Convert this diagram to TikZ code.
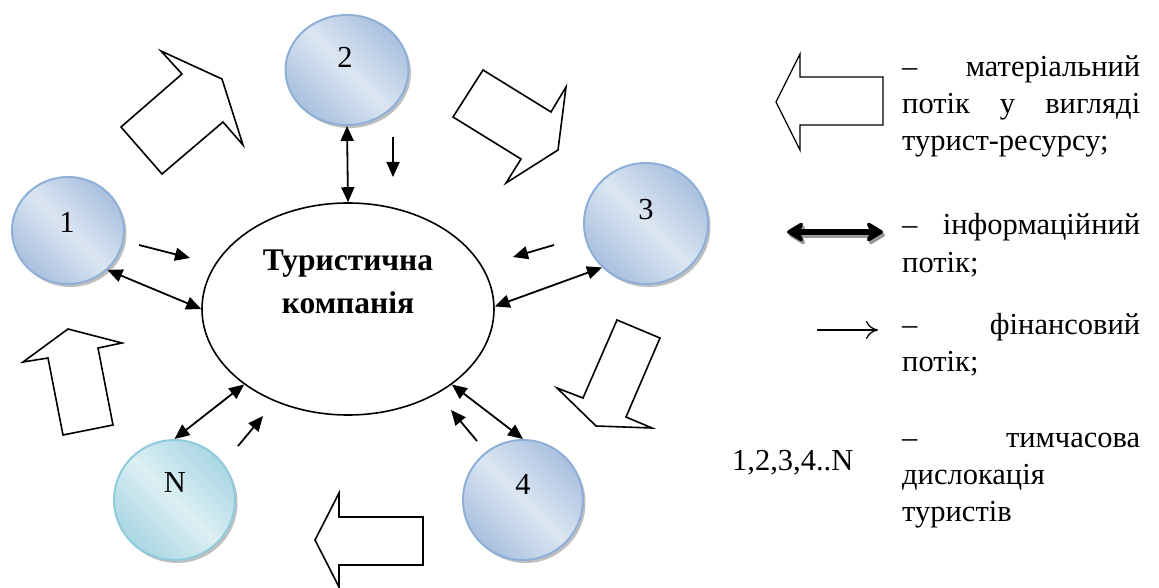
\documentclass[tikz,border=0pt]{standalone}
\usepackage{fontspec}
\setmainfont{Liberation Serif}
\usetikzlibrary{shapes.geometric,arrows.meta,shadows}
\definecolor{bL}{HTML}{DCE6F2}
\definecolor{bD}{HTML}{A9C0DF}
\definecolor{bB}{HTML}{8EAFD8}
\definecolor{cL}{HTML}{DCEFF4}
\definecolor{cD}{HTML}{A9D6E3}
\definecolor{cB}{HTML}{8FCBDC}
\begin{document}
\begin{tikzpicture}[x=1pt,y=-1pt,
  font=\fontsize{30.5}{37}\selectfont,
  place/.style={ellipse, inner sep=0pt, line width=2pt,
    drop shadow={shadow xshift=2.5pt, shadow yshift=-3pt, fill=black!50}},
  blueplace/.style={place, draw=bB, top color=bD, bottom color=bD, middle color=bL, shading angle=-45},
  cyanplace/.style={place, draw=cB, top color=cD, bottom color=cD, middle color=cL, shading angle=-45},
  info/.style={line width=1.8pt, {Triangle[length=15pt,width=13pt]}-{Triangle[length=15pt,width=13pt]}},
  fin/.style={line width=1.8pt, -{Triangle[length=15pt,width=13pt]}},
  blockarrow/.style={draw, line width=1.6pt, fill=white, line join=miter},
  legtext/.style={anchor=base west, text width=238pt, inner sep=0pt, align=left},
]
\useasboundingbox (0,0) rectangle (1159,588);

% block arrows (material flow)
\draw[blockarrow] (121,127) -- (162,174) -- (223,122) -- (243,145) -- (222,79) -- (161,51) -- (182,74) -- cycle;
\draw[blockarrow] (453,117) -- (483,70) -- (551,112) -- (566,87) -- (558,150) -- (506,183) -- (521,159) -- cycle;
\draw[blockarrow] (617,320) -- (660,338) -- (626,417) -- (652,428) -- (596,426) -- (557,388) -- (583,398) -- cycle;
\draw[blockarrow] (423,517) -- (339,517) -- (339,493) -- (315,540) -- (339,587) -- (339,565) -- (423,565) -- cycle;
\draw[blockarrow] (23,362) -- (68,329) -- (122,343) -- (98,348) -- (113,425) -- (63,435) -- (48,358) -- cycle;

% places
\node[blueplace, minimum width=123pt, minimum height=110pt] (c2) at (347,70) {};
\node[blueplace, minimum width=112pt, minimum height=107pt] (c1) at (68,230.5) {};
\node[blueplace, minimum width=124pt, minimum height=121pt] (c3) at (646,223.5) {};
\node[cyanplace, minimum width=121pt, minimum height=120pt] (cN) at (174.5,500) {};
\node[blueplace, minimum width=120pt, minimum height=120pt] (c4) at (523,500) {};
\node (t2) at (345,57) {2};
\node (t1) at (67,222) {1};
\node (t3) at (646,210) {3};
\node (tN) at (175,483) {N};
\node (t4) at (523,484) {4};

% company
\node[ellipse, draw, line width=1.6pt, fill=white, minimum width=292pt, minimum height=212pt, inner sep=0pt] (co) at (348,309) {};
\node[font=\fontsize{31.5}{43}\selectfont\bfseries, text width=260pt, align=center, anchor=base, inner sep=0pt] (ct) at (348,270) {Туристична\\компанія};

% information flows
\draw[info] (c1.-45) -- (co.180);
\draw[info] (c2.south) -- (co.north);
\draw[info] (co.1) -- (c3.225);
\draw[info] (co.-36) -- (c4.north);
\draw[info] (co.-144) -- (cN.north);

% financial flows
\coordinate (fa1) at (139,245); \coordinate (fa2) at (190,258);
\coordinate (fb1) at (393,137); \coordinate (fb2) at (393,177);
\coordinate (fc1) at (554,245); \coordinate (fc2) at (513,257);
\coordinate (fd1) at (477,441); \coordinate (fd2) at (451,410);
\coordinate (fe1) at (238,446); \coordinate (fe2) at (263,416);
\draw[fin] (fa1) -- (fa2);
\draw[fin] (fb1) -- (fb2);
\draw[fin] (fc1) -- (fc2);
\draw[fin] (fd1) -- (fd2);
\draw[fin] (fe1) -- (fe2);

% legend
\draw[blockarrow, line width=1.3pt] (883,77) -- (800,77) -- (800,54) -- (776,102) -- (800,150) -- (800,125) -- (883,125) -- cycle;
\coordinate (li1) at (787,232); \coordinate (li2) at (883,232);
\draw[line width=5pt, black!40, {Stealth[length=20pt,width=24pt,inset=6pt,round]}-{Stealth[length=20pt,width=24pt,inset=6pt,round]}] ([shift={(2,3)}]li1) -- ([shift={(2,3)}]li2);
\draw[line width=5pt, {Stealth[length=20pt,width=24pt,inset=6pt,round]}-{Stealth[length=20pt,width=24pt,inset=6pt,round]}] (li1) -- (li2);
\coordinate (lf1) at (817,330); \coordinate (lf2) at (878,330);
\draw[line width=1.3pt, -{Computer Modern Rightarrow[length=12pt,width=18pt]}] (lf1) -- (lf2);

\node[legtext] (lg1) at (902,77) {\makebox[\linewidth]{–\hfill матеріальний}\\
  \makebox[\linewidth]{потік\hfill у\hfill вигляді}\\
  турист-ресурсу;};
\node[legtext] (lg2) at (902,235) {\makebox[\linewidth]{–\hfill інформаційний}\\потік;};
\node[legtext] (lg3) at (902,334) {\makebox[\linewidth]{–\hfill фінансовий}\\потік;};
\node[legtext] (lg4) at (902,447) {\makebox[\linewidth]{–\hfill тимчасова}\\дислокація\\туристів};
\node[anchor=base west, inner sep=0pt] (lg5) at (732,470) {1,2,3,4..N};
\end{tikzpicture}
\end{document}
